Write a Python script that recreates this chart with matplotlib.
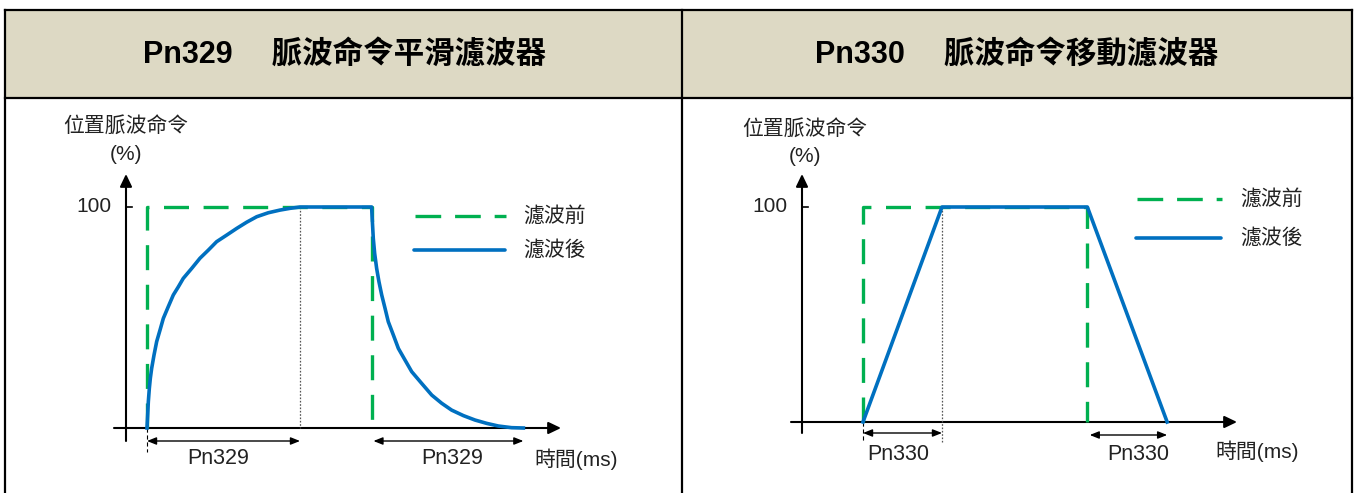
import matplotlib
matplotlib.use('Agg')
import matplotlib.pyplot as plt
from matplotlib.patches import Rectangle

plt.rcParams['font.family'] = ['Liberation Sans', 'Noto Sans CJK TC', 'DejaVu Sans']
plt.rcParams['lines.scale_dashes'] = False

# ---------------- data ----------------
panel_codes = ['Pn329', 'Pn330']
panel_names = ['脈波命令平滑濾波器', '脈波命令移動濾波器']
y_label = '位置脈波命令'
y_unit = '(%)'
x_label = '時間(ms)'
series_labels = ['濾波前', '濾波後']
y_tick_value = 100
y_tick_label = '100'

# Pn329 smoothing filter (time units: Pn329 = 100)
smooth_before_t = [0, 0, 147, 147]
smooth_before_v = [0, 100, 100, 0]
smooth_after_t = [0, 0.44, 0.87, 1.52, 2.18, 3.05, 4.58, 6.32, 8.5, 10.67, 13.9, 17.2, 20.5,
                  23.7, 29.2, 34.6, 40.1, 45.5, 52.1, 58.6, 65.1, 71.7, 79.3, 86.9, 93.5, 100,
                  146.8, 147.3, 147.9, 148.8, 150.1, 151.6, 153.4, 155.6, 157.7, 161.0, 164.3,
                  168.6, 173.0, 179.5, 186.1, 192.6, 199.1, 206.8, 214.4, 222.0, 229.6, 238.3, 246.0]
smooth_after_v = [0, 5.9, 11.9, 17.9, 22.5, 27.0, 33.0, 39.1, 44.3, 49.6, 54.9, 60.2, 63.9,
                  67.7, 72.2, 76.8, 80.5, 84.3, 87.3, 90.3, 93.1, 95.6, 97.4, 98.6, 99.4, 100,
                  100, 93.4, 85.8, 79.0, 72.2, 66.2, 60.2, 54.1, 48.1, 42.1, 36.0,
                  30.8, 25.5, 20.2, 14.9, 11.2, 8.1, 5.6, 3.6, 2.1, 0.9, 0.15, 0]
smooth_spans = [(0, 100), (148, 246)]

# Pn330 moving filter (time units: Pn330 = 100)
move_before_t = [0, 0, 284, 284]
move_before_v = [0, 100, 100, 0]
move_after_t = [0, 100, 284, 385]
move_after_v = [0, 100, 100, 0]
move_spans = [(0, 100), (287, 385)]

# ---------------- style ----------------
W, H = 1357, 493
GREEN = '#00b050'
BLUE = '#0070c0'
TXT = '#222222'
HEADER = '#ddd9c4'
DASH = (0, (18, 10.5))
FS = 15

fig = plt.figure(figsize=(W / 100, H / 100), dpi=100)
fig.patch.set_facecolor('white')

# background / table frame in pixel coordinates
bg = fig.add_axes([0, 0, 1, 1])
bg.set_xlim(0, W)
bg.set_ylim(H, 0)
bg.axis('off')
bg.add_patch(Rectangle((5, 10), 1347, 88, facecolor=HEADER, edgecolor='none', zorder=0))
for (xa, xb, ya, yb) in [(5, 1352, 10, 10), (5, 1352, 98, 98), (5, 5, 10, H),
                         (682, 682, 10, H), (1352, 1352, 10, H)]:
    bg.plot([xa, xb], [ya, yb], color='black', lw=1.6, solid_capstyle='projecting', zorder=1)


def ftext(x, y, s, **kw):
    kw.setdefault('fontsize', FS)
    kw.setdefault('color', TXT)
    kw.setdefault('ha', 'center')
    kw.setdefault('va', 'center')
    fig.text(x / W, 1 - y / H, s, **kw)


def panel(px_l, px_r, x0, xs, y0, ys, before, after, spans, code, name,
          ax_x, ax_tip_x, ax_left_x, y_tip, y_bot, dot_bottom, left_ext_bottom,
          legend_y, legend_x0, legend_x1, legend_tx, dim_y,
          lab_pos, xlabel_pos, ylab_x, ylab_y, unit_y, title_cx):
    ax = fig.add_axes([px_l / W, 0, (px_r - px_l) / W, (H - 98) / H])
    ax.set_xlim((px_l - x0) / xs, (px_r - x0) / xs)
    ax.set_ylim((y0 - H) / ys, (y0 - 98) / ys)
    ax.axis('off')
    dx = lambda p: (p - x0) / xs
    dy = lambda p: (y0 - p) / ys

    # axes with arrows
    ax.annotate('', xy=(dx(ax_tip_x), 0), xytext=(dx(ax_left_x), 0),
                arrowprops=dict(arrowstyle='-|>,head_length=0.75,head_width=0.36',
                                mutation_scale=10, lw=1.5, color='black',
                                shrinkA=0, shrinkB=0), zorder=1)
    ax.annotate('', xy=(dx(ax_x), dy(y_tip)), xytext=(dx(ax_x), dy(y_bot)),
                arrowprops=dict(arrowstyle='-|>,head_length=0.75,head_width=0.36',
                                mutation_scale=10, lw=1.5, color='black',
                                shrinkA=0, shrinkB=0), zorder=1)
    ax.plot([dx(ax_x), dx(ax_x + 6)], [y_tick_value, y_tick_value], color='black', lw=1.2)

    # helper lines
    ax.plot([spans[0][1], spans[0][1]], [y_tick_value, dy(dot_bottom)], color='#555555',
            lw=0.9, linestyle=(0, (1.2, 1.2)), zorder=1)
    ax.plot([spans[0][0], spans[0][0]], [0, dy(left_ext_bottom)], color='black',
            lw=0.8, linestyle=(0, (3, 2)), zorder=1)

    # series
    ax.plot(before[0], before[1], color=GREEN, lw=2.4, linestyle=DASH, zorder=2)
    ax.plot(after[0], after[1], color=BLUE, lw=2.6, solid_joinstyle='round', zorder=3)

    # dimension arrows
    for (a, b), yy in zip(spans, dim_y):
        ax.annotate('', xy=(b, dy(yy)), xytext=(a, dy(yy)),
                    arrowprops=dict(arrowstyle='<|-|>,head_length=0.55,head_width=0.22',
                                    mutation_scale=10, lw=1.0, color='black',
                                    shrinkA=0, shrinkB=0))
    for (lx, ly) in lab_pos:
        ftext(lx, ly, code, fontsize=15.5)
    ftext(xlabel_pos[0], xlabel_pos[1], x_label)
    ftext(ylab_x, ylab_y, y_label)
    ftext(ylab_x, unit_y, y_unit)
    ftext(ax_x - 14, y0 - y_tick_value * ys, y_tick_label, ha='right')

    # legend
    bg.plot([legend_x0, legend_x1], [legend_y[0], legend_y[0]], color=GREEN, lw=2.4,
            linestyle=(0, (18.5, 10)), zorder=2)
    bg.plot([legend_x0 - 1, legend_x1 - 1], [legend_y[1], legend_y[1]], color=BLUE, lw=2.6,
            solid_capstyle='round', zorder=2)
    ftext(legend_tx, legend_y[0], series_labels[0], ha='left')
    ftext(legend_tx, legend_y[1], series_labels[1], ha='left')

    # header
    ftext(title_cx, 55, code + ' \u3000' + name, fontsize=22, fontweight='bold',
          color='black')
    return ax


panel(5, 682, 147, 1.53, 428, 2.21,
      (smooth_before_t, smooth_before_v), (smooth_after_t, smooth_after_v), smooth_spans,
      panel_codes[0], panel_names[0],
      ax_x=126, ax_tip_x=561, ax_left_x=114, y_tip=174, y_bot=441,
      dot_bottom=428, left_ext_bottom=452,
      legend_y=(216, 250), legend_x0=415, legend_x1=506, legend_tx=523,
      dim_y=(441, 441), lab_pos=[(218, 458), (452, 459)], xlabel_pos=(576, 459),
      ylab_x=126, ylab_y=126, unit_y=154, title_cx=345)

panel(682, 1352, 863, 0.79, 422, 2.15,
      (move_before_t, move_before_v), (move_after_t, move_after_v), move_spans,
      panel_codes[1], panel_names[1],
      ax_x=802, ax_tip_x=1237, ax_left_x=791, y_tip=174, y_bot=433,
      dot_bottom=442, left_ext_bottom=442,
      legend_y=(199, 238), legend_x0=1137, legend_x1=1222, legend_tx=1240,
      dim_y=(433, 435), lab_pos=[(898, 455), (1138, 454)], xlabel_pos=(1257, 451),
      ylab_x=805, ylab_y=129, unit_y=157, title_cx=1017)

fig.savefig('out.png', dpi=100)
